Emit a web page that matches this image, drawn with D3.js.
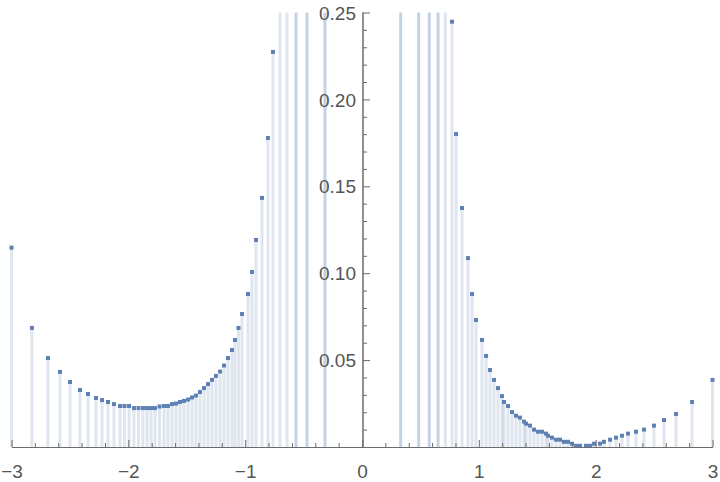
<!DOCTYPE html>
<html><head><meta charset="utf-8">
<script src="https://cdn.jsdelivr.net/npm/d3@7"></script>
<style>body{margin:0;background:#fff}svg{display:block}</style>
</head><body>
<svg id="chart" width="720" height="482"></svg>
<script>
// ---- data ----
const xValues = [
  -3.0, -2.825, -2.688, -2.585, -2.499, -2.414, -2.345, -2.277, -2.225, -2.174,
  -2.123, -2.071, -2.033, -1.994, -1.952, -1.913, -1.875, -1.840, -1.806, -1.772,
  -1.733, -1.695, -1.661, -1.626, -1.592, -1.558, -1.524, -1.489, -1.455, -1.421,
  -1.387, -1.352, -1.318, -1.284, -1.250, -1.215, -1.181, -1.147, -1.113, -1.087,
  -1.057, -1.027, -0.976, -0.942, -0.907, -0.856, -0.805, -0.762, -0.702, -0.642,
  -0.565, -0.471, -0.317,
  0.331, 0.485, 0.576, 0.651, 0.713, 0.770, 0.805, 0.856, 0.907, 0.942,
  0.976, 1.027, 1.062, 1.096, 1.130, 1.164, 1.198, 1.215, 1.250, 1.284,
  1.318, 1.352, 1.387, 1.404, 1.438, 1.472, 1.506, 1.541, 1.575, 1.592,
  1.626, 1.661, 1.695, 1.729, 1.763, 1.797, 1.832, 1.866, 1.917, 1.952,
  1.986, 2.037, 2.071, 2.123, 2.174, 2.225, 2.277, 2.345, 2.414, 2.499,
  2.585, 2.688, 2.825, 3.0
];
const yValues = [
  0.1147, 0.0685, 0.0512, 0.0432, 0.0374, 0.0328, 0.0305, 0.0282, 0.0270, 0.0259,
  0.0247, 0.0236, 0.0236, 0.0236, 0.0224, 0.0224, 0.0224, 0.0224, 0.0224, 0.0224,
  0.0233, 0.0236, 0.0236, 0.0247, 0.0250, 0.0259, 0.0265, 0.0273, 0.0285, 0.0296,
  0.0316, 0.0339, 0.0362, 0.0386, 0.0409, 0.0434, 0.0469, 0.0512, 0.0558, 0.0616,
  0.0685, 0.0765, 0.0880, 0.1007, 0.1191, 0.1433, 0.1778, 0.2273, 0.30, 0.38,
  0.60, 1.00, 3.00,
  3.00, 1.00, 0.60, 0.45, 0.32, 0.2447, 0.1801, 0.1375, 0.1087, 0.0880,
  0.0731, 0.0616, 0.0524, 0.0443, 0.0386, 0.0339, 0.0293, 0.0259, 0.0236, 0.0201,
  0.0180, 0.0169, 0.0146, 0.0134, 0.0123, 0.0100, 0.0088, 0.0088, 0.0077, 0.0065,
  0.0054, 0.0042, 0.0042, 0.0030, 0.0030, 0.0019, 0.0007, 0.0007, 0.0007, 0.0007,
  0.0019, 0.0019, 0.0030, 0.0042, 0.0054, 0.0065, 0.0077, 0.0088, 0.0100, 0.0123,
  0.0155, 0.0190, 0.0259, 0.0386
];
const xTickLabels = [-3, -2, -1, 0, 1, 2, 3];
const yTickLabels = [0.05, 0.10, 0.15, 0.20, 0.25];

// ---- chart ----
const svg = d3.select("#chart");
const x = d3.scaleLinear().domain([-3, 3]).range([11.5, 712.5]);
const y = d3.scaleLinear().domain([0, 0.25]).range([447, 12.5]);
const yMax = 0.25;
const baseColor = "#5E81B5";
const axisColor = "#6b6b6b";
const labelColor = "#555555";
const font = "'Liberation Sans', Arial, Helvetica, sans-serif";

const data = xValues.map((d, i) => ({x: d, y: yValues[i]}));

// filling bars
svg.append("g").selectAll("rect").data(data).join("rect")
  .attr("x", d => x(d.x) - 1.5)
  .attr("width", 3)
  .attr("y", d => y(Math.min(d.y, yMax)))
  .attr("height", d => y(0) - y(Math.min(d.y, yMax)))
  .attr("fill", baseColor)
  .attr("fill-opacity", d => d.y > 0.4 ? 0.36 : 0.2);

// points
svg.append("g").selectAll("rect").data(data.filter(d => d.y <= yMax)).join("rect")
  .attr("x", d => x(d.x) - 2)
  .attr("y", d => y(d.y) - 2)
  .attr("width", 4).attr("height", 4)
  .attr("fill", baseColor);

// x axis
const xMinor = d3.range(-3, 3.0001, 0.2).map(v => Math.round(v * 10) / 10)
  .filter(v => Math.abs(v - Math.round(v)) > 1e-6);
const gxMinor = svg.append("g").attr("transform", `translate(0,${y(0)})`)
  .call(d3.axisTop(x).tickValues(xMinor).tickSize(4).tickFormat("").tickSizeOuter(0));
const gx = svg.append("g").attr("transform", `translate(0,${y(0)})`)
  .call(d3.axisTop(x).tickValues(xTickLabels).tickSize(7).tickSizeOuter(0).tickFormat(d3.format("d")));
gx.selectAll("text").attr("y", 18).attr("dy", "0.71em")
  .attr("fill", labelColor).style("font-family", font).style("font-size", "19px");

// y axis
const yMinor = d3.range(1, 26).map(v => v / 100).filter(v => Math.round(v * 100) % 5 !== 0);
const gyMinor = svg.append("g").attr("transform", `translate(${x(0) + 1},0)`)
  .call(d3.axisRight(y).tickValues(yMinor).tickSize(4).tickFormat("").tickSizeOuter(0));
const gy = svg.append("g").attr("transform", `translate(${x(0) + 1},0)`)
  .call(d3.axisRight(y).tickValues(yTickLabels).tickSize(7).tickSizeOuter(0).tickFormat(d3.format(".2f")));
gy.selectAll("text").attr("x", -7).attr("text-anchor", "end").attr("dy", "0.35em")
  .attr("fill", labelColor).style("font-family", font).style("font-size", "19px");

svg.selectAll(".domain").attr("stroke", axisColor).attr("stroke-width", 1);
svg.selectAll(".tick line").attr("stroke", axisColor).attr("stroke-width", 1);
gy.select(".domain").attr("d", `M0,${y(0)}V${y(yMax)}`);
gyMinor.select(".domain").attr("d", `M0,${y(0)}V${y(yMax)}`);
</script>
</body></html>
